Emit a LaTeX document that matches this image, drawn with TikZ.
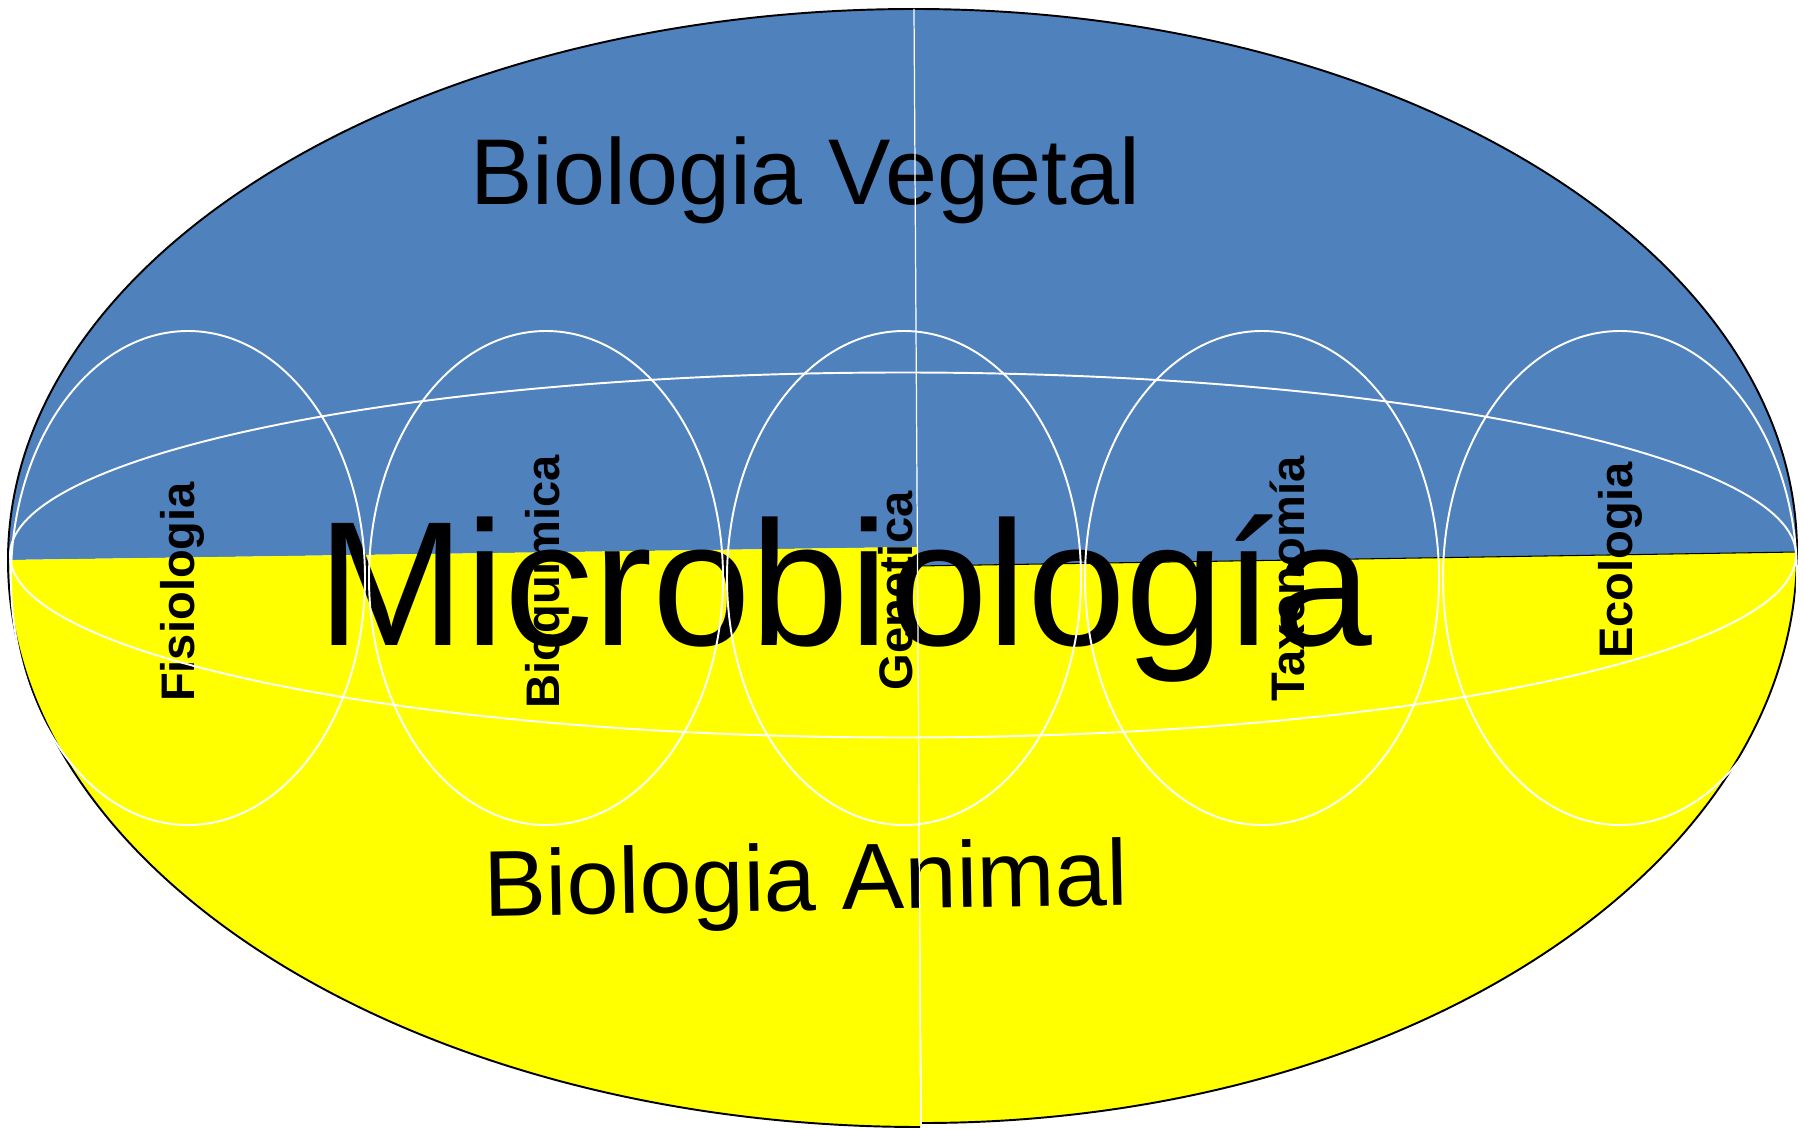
\documentclass[tikz,border=0pt]{standalone}
\usepackage{fontspec}
\setmainfont{Liberation Sans}
\usepackage{tikz}
\definecolor{vegetal}{RGB}{79,129,189}
\definecolor{animal}{RGB}{255,255,0}
\tikzset{
  rim/.style={draw=black, line width=0.55pt},
  seam/.style={draw=white, line width=0.35pt},
  ring/.style={draw=white, line width=0.55pt},
  area/.style={font=\fontsize{26.6}{30}\selectfont, inner sep=0pt, anchor=base},
  core/.style={font=\fontsize{50.5}{56}\selectfont, inner sep=0pt, anchor=base},
  field/.style={font=\fontsize{13.4}{16}\selectfont\bfseries, rotate=90, inner sep=0pt, anchor=base}
}
\begin{document}
\begin{tikzpicture}
  \useasboundingbox (0,0) rectangle (18.04,11.28);
  \coordinate (w) at (0.08,5.68);
  \coordinate (e) at (17.97,5.76);
  \coordinate (n) at (9.14,11.19);
  \coordinate (s) at (9.21,0.03);
  \coordinate (nw) at (9.17,5.81);
  \coordinate (ne) at (9.17,5.62);
  % cuadrantes
  \fill[vegetal] (nw) -- (w) arc[start angle=180, end angle=90, x radius=9.06, y radius=5.51] -- cycle;
  \fill[vegetal] (n) arc[start angle=90, end angle=0, x radius=8.83, y radius=5.43] -- (ne) -- cycle;
  \fill[animal] (nw) -- (w) arc[start angle=180, end angle=270, x radius=9.12, y radius=5.67] -- cycle;
  \fill[animal] (9.22,0.05) arc[start angle=270, end angle=360, x radius=8.75, y radius=5.71] -- (ne) -- cycle;
  \draw[rim] (9.20,0.01) arc[start angle=270, end angle=180, x radius=9.12, y radius=5.67]
    arc[start angle=180, end angle=90, x radius=9.06, y radius=5.51]
    arc[start angle=90, end angle=0, x radius=8.83, y radius=5.43]
    arc[start angle=0, end angle=-90, x radius=8.75, y radius=5.71];
  \draw[black, line width=0.3pt] (ne) -- (e);
  % textos
  \node[area] (veg) at (8.055,9.23) {Biologia Vegetal};
  \node[area, rotate=1] (ani) at (8.065,2.175) {Biologia Animal};
  \node[core] (micro) at (8.45,4.83) {Microbiología};
  \node[field] (fisio) at (1.94,5.36) {Fisiologia};
  \node[field] (bioq) at (5.595,5.46) {Bioquímica};
  \node[field] (gen) at (9.12,5.37) {Genetica};
  \node[field] (taxo) at (13.04,5.49) {Taxonomía};
  \node[field] (eco) at (16.32,5.675) {Ecologia};
  \draw[seam] (n) -- (s);
  \foreach \cx in {1.88,5.46,9.04,12.62,16.20}
    \draw[ring] (\cx,5.50) ellipse[x radius=1.77, y radius=2.47];
  \draw[ring] (9.03,5.73) ellipse[x radius=8.93, y radius=1.825];
\end{tikzpicture}
\end{document}
